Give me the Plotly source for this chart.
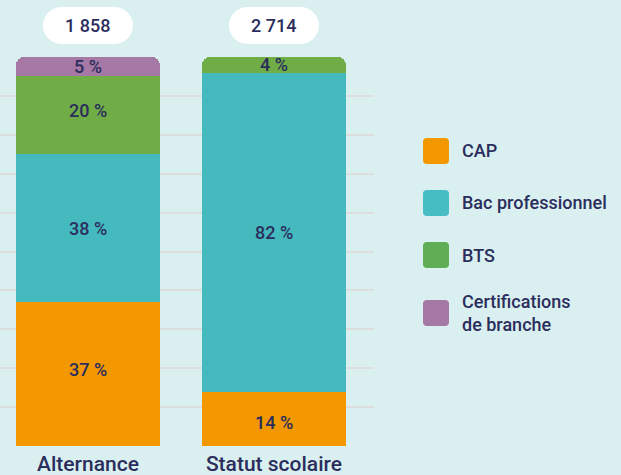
import plotly.graph_objects as go

categories = ["Alternance", "Statut scolaire"]
totals = ["1 858", "2 714"]
series_names = ["CAP", "Bac professionnel", "BTS", "Certifications<br>de branche"]
cap = [37, 14]
bac = [38, 82]
bts = [20, 4]
cert = [5, 0]
series_values = [cap, bac, bts, cert]
colors = ["#f39800", "#44babf", "#70ad47", "#a678a6"]
legend_colors = ["#f39800", "#45bdc2", "#5fae55", "#a678a6"]
# small vertical nudges (px) of the in-bar labels, per series and category
label_nudge = [[5, -4], [0, 0], [5, 0], [0, 0]]

NAVY = "#2b2d5c"
BG = "#daf0f0"
FONT = "Roboto"

PLOT_W = 374
PLOT_H = 389
shapes = []
annotations = []

fig = go.Figure()
base = [0] * len(categories)
for name, vals, col, nudge in zip(series_names, series_values, colors, label_nudge):
    fig.add_trace(go.Bar(
        x=categories, y=vals, name=name,
        marker=dict(color=col, line=dict(width=0)),
        width=0.774, showlegend=False, hoverinfo="skip",
    ))
    for i, (cat, v) in enumerate(zip(categories, vals)):
        if v > 0:
            annotations.append(dict(x=cat, xref="x", y=base[i] + v / 2, yref="y",
                                    text=f"{v} %", showarrow=False, yshift=nudge[i],
                                    xanchor="center", yanchor="middle",
                                    font=dict(family=FONT, size=18, color=NAVY, weight=500)))
        base[i] += v

# pill labels above bars
pill_y = 1 + (57 - 25.5) / PLOT_H
for cat, tot in zip(categories, totals):
    hw, hh = 45, 18.5
    shapes.append(dict(type="rect", xref="x", yref="paper", xsizemode="pixel", ysizemode="pixel",
                       xanchor=cat, yanchor=pill_y, x0=-hw + hh, x1=hw - hh, y0=-hh, y1=hh,
                       fillcolor="white", line=dict(width=0), layer="above"))
    for cx in (-hw + hh, hw - hh):
        shapes.append(dict(type="circle", xref="x", yref="paper", xsizemode="pixel", ysizemode="pixel",
                           xanchor=cat, yanchor=pill_y, x0=cx - hh, x1=cx + hh, y0=-hh, y1=hh,
                           fillcolor="white", line=dict(width=0), layer="above"))
    annotations.append(dict(x=cat, xref="x", y=pill_y, yref="paper", text=tot, showarrow=False,
                            font=dict(family=FONT, size=18, color=NAVY, weight=500),
                            xanchor="center", yanchor="middle"))

# manual legend
leg_y_px = [151, 203, 255, 313]
r = 4
s = 13
for name, col, ypx in zip(series_names, legend_colors, leg_y_px):
    py = 1 - (ypx - 57) / PLOT_H
    path = (f"M{-s + r},{-s} L{s - r},{-s} Q{s},{-s} {s},{-s + r} L{s},{s - r} Q{s},{s} {s - r},{s} "
            f"L{-s + r},{s} Q{-s},{s} {-s},{s - r} L{-s},{-s + r} Q{-s},{-s} {-s + r},{-s} Z")
    shapes.append(dict(type="path", xref="paper", yref="paper", xsizemode="pixel", ysizemode="pixel",
                       xanchor=436 / PLOT_W, yanchor=py, path=path,
                       fillcolor=col, line=dict(width=0)))
    annotations.append(dict(x=460 / PLOT_W, xref="paper", y=py, yref="paper", text=name,
                            showarrow=False, align="left", xanchor="left", yanchor="middle",
                            font=dict(family=FONT, size=18, color=NAVY, weight=500)))

fig.update_layout(
    barmode="stack",
    barcornerradius=8,
    width=621, height=475,
    margin=dict(l=0, r=621 - PLOT_W, t=57, b=475 - 446, pad=0),
    paper_bgcolor=BG, plot_bgcolor=BG,
    shapes=shapes, annotations=annotations,
    showlegend=False,
    xaxis=dict(range=[-0.473, 1.538], showgrid=False, zeroline=False, showline=False,
               ticks="", tickfont=dict(family=FONT, size=21, color=NAVY, weight=500),
               ticklabelstandoff=3),
    yaxis=dict(range=[0, 100], dtick=10, showticklabels=False, showgrid=True,
               gridcolor="#dedede", gridwidth=2, zeroline=False, showline=False),
)

fig.write_html(
    "out.html",
    config={"displayModeBar": False},
    post_script="document.body.style.margin='0';document.body.style.overflow='hidden';",
)
